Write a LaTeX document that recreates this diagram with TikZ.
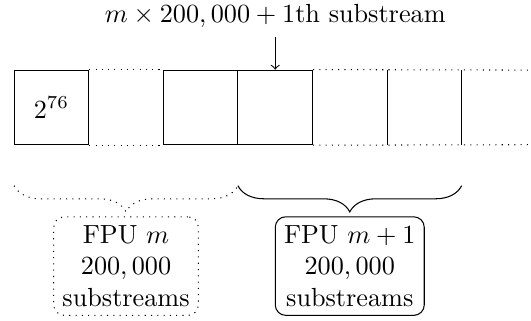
\documentclass[tikz,border=0pt]{standalone}
\usetikzlibrary{decorations.pathreplacing}

\begin{document}
\begin{tikzpicture}[
  cell/.style={draw, minimum size=1cm, inner sep=0pt},
  fpubox/.style={draw, rounded corners, align=center, anchor=north},
  bracedec/.style={decorate, decoration={brace, mirror, amplitude=10pt}}
]
  \useasboundingbox (-0.19,-2.36) rectangle (6.93,1.94);

  % the cells of the stream
  \node[cell] (first) at (0.5,0.5) {$2^{76}$};
  \node[cell] (left) at (2.5,0.5) {};
  \node[cell] (right) at (3.5,0.5) {};

  % the parts that are left out
  \draw[dotted] (first.north east) -- (left.north west);
  \draw[dotted] (first.south east) -- (left.south west);
  \draw[dotted] (right.north east) -- (7,1);
  \draw[dotted] (right.south east) -- (7,0);
  \draw (5,0) -- (5,1);
  \draw (6,0) -- (6,1);

  % which substream starts here
  \node (start) at (3.5,1.72) {$m \times 200,000 + 1$th substream};
  \draw[->] (start) -- (right.north);

  % braces for the two FPUs
  \coordinate (a) at (0,-0.55);
  \coordinate (b) at (3,-0.55);
  \coordinate (c) at (6,-0.55);
  \draw[bracedec, dotted] (a) -- (b);
  \draw[bracedec] (b) -- (c);

  \node[fpubox, dotted] (fpum) at (1.5,-0.96) {FPU $m$\\ $200,000$\\ substreams};
  \node[fpubox] (fpunext) at (4.5,-0.96) {FPU $m+1$\\ $200,000$\\ substreams};
\end{tikzpicture}
\end{document}
